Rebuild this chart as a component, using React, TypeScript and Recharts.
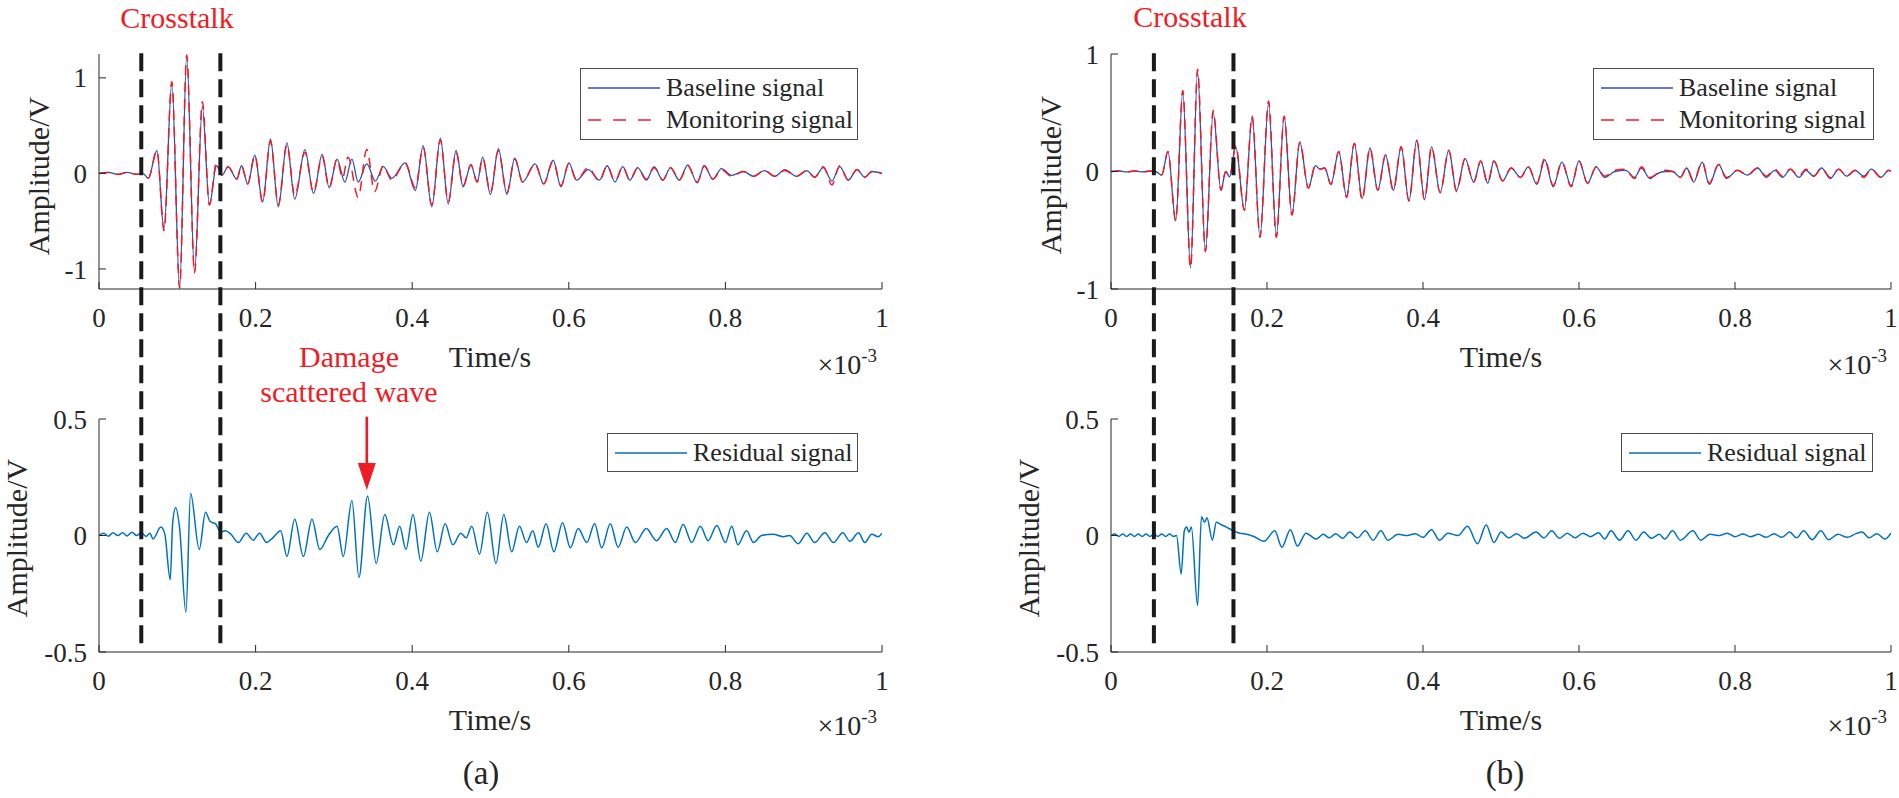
import React from "react";
import { LineChart, Line, XAxis, YAxis, ReferenceLine, Legend } from "recharts";

const FONT = '"Liberation Serif", "Times New Roman", serif';
const INK = "#262626";
const BLUE = "#2f4fb8";
const RED = "#ee1c25";
const RESID = "#0072bd";

// time axis is in units of 1e-3 s
const X_TICKS = [0, 0.2, 0.4, 0.6, 0.8, 1];
const SIG_A_TICKS = [-1, 0, 1];
const SIG_A_DOMAIN = [-1.21, 1.25];
const SIG_B_TICKS = [-1, 0, 1];
const SIG_B_DOMAIN = [-1, 1];
const RES_TICKS = [-0.5, 0, 0.5];
const RES_DOMAIN = [-0.5, 0.5];

// crosstalk window edges and damage echo position
const CROSS_A = [0.054, 0.155];
const CROSS_B = [0.055, 0.157];
const DASH_SPAN = [2.07, -0.48];
const DAMAGE_T = 0.342;
const ARROW_SPAN = [0.51, 0.195];

// [time, amplitude] (extrema of each oscillation)
const baselineA: [number, number][] = [
  [0, 0], [0.012, 0.01], [0.024, -0.01], [0.036, 0.01], [0.048, -0.01], [0.056, 0], [0.063, -0.05],
  [0.074, 0.24], [0.083, -0.59], [0.093, 0.95], [0.103, -1.2], [0.112, 1.23], [0.122, -1.04],
  [0.132, 0.7], [0.141, -0.33], [0.15, 0.08], [0.157, -0.02], [0.165, 0.07], [0.176, -0.06],
  [0.182, 0.08], [0.19, -0.11], [0.199, 0.19], [0.209, -0.3], [0.219, 0.36], [0.229, -0.35],
  [0.24, 0.32], [0.25, -0.27], [0.263, 0.25], [0.274, -0.21], [0.285, 0.2], [0.294, -0.15],
  [0.304, 0.15], [0.314, -0.09], [0.323, 0.15], [0.331, -0.09], [0.342, 0.1], [0.353, -0.08],
  [0.363, 0.07], [0.374, -0.05], [0.391, 0.11], [0.404, -0.18], [0.414, 0.29], [0.425, -0.35],
  [0.436, 0.37], [0.446, -0.32], [0.456, 0.24], [0.465, -0.14], [0.475, 0.09], [0.483, -0.09],
  [0.49, 0.17], [0.5, -0.22], [0.51, 0.26], [0.521, -0.22], [0.531, 0.16], [0.541, -0.09],
  [0.557, 0.1], [0.568, -0.11], [0.58, 0.14], [0.59, -0.14], [0.6, 0.11], [0.61, -0.07],
  [0.625, 0.04], [0.639, -0.07], [0.649, 0.08], [0.659, -0.09], [0.669, 0.07], [0.678, -0.07],
  [0.688, 0.06], [0.699, -0.07], [0.709, 0.07], [0.72, -0.07], [0.73, 0.06], [0.741, -0.07],
  [0.752, 0.09], [0.764, -0.1], [0.773, 0.08], [0.784, -0.06], [0.795, 0.05], [0.808, -0.02],
  [0.823, 0.02], [0.836, -0.03], [0.85, 0.03], [0.863, -0.03], [0.876, 0.04], [0.891, -0.03],
  [0.904, 0.03], [0.914, -0.04], [0.925, 0.06], [0.936, -0.08], [0.946, 0.07], [0.957, -0.07],
  [0.968, 0.04], [0.978, -0.04], [0.987, 0.02], [1, 0],
];

const monitorA: [number, number][] = [
  [0, 0], [0.012, 0.01], [0.024, -0.01], [0.036, 0.01], [0.048, -0.01], [0.056, 0], [0.063, -0.05],
  [0.074, 0.24], [0.083, -0.6], [0.093, 0.96], [0.103, -1.2], [0.112, 1.24], [0.122, -1.04],
  [0.132, 0.75], [0.141, -0.33], [0.15, 0.11], [0.157, -0.02], [0.165, 0.07], [0.176, -0.06],
  [0.182, 0.08], [0.19, -0.11], [0.199, 0.19], [0.209, -0.3], [0.219, 0.34], [0.229, -0.33],
  [0.24, 0.3], [0.25, -0.23], [0.263, 0.22], [0.274, -0.2], [0.285, 0.18], [0.294, -0.15],
  [0.304, 0.15], [0.311, -0.05], [0.318, 0.17], [0.331, -0.25], [0.342, 0.25], [0.352, -0.19],
  [0.363, 0.08], [0.374, -0.07], [0.391, 0.11], [0.404, -0.15], [0.414, 0.27], [0.425, -0.33],
  [0.436, 0.35], [0.446, -0.3], [0.456, 0.22], [0.465, -0.13], [0.475, 0.09], [0.483, -0.09],
  [0.49, 0.16], [0.5, -0.2], [0.51, 0.24], [0.521, -0.2], [0.531, 0.15], [0.541, -0.09],
  [0.557, 0.1], [0.568, -0.11], [0.58, 0.13], [0.59, -0.13], [0.6, 0.1], [0.61, -0.07],
  [0.625, 0.06], [0.639, -0.08], [0.649, 0.08], [0.659, -0.08], [0.669, 0.07], [0.678, -0.07],
  [0.688, 0.06], [0.699, -0.06], [0.709, 0.06], [0.72, -0.07], [0.73, 0.06], [0.741, -0.07],
  [0.752, 0.08], [0.764, -0.09], [0.773, 0.08], [0.784, -0.06], [0.795, 0.04], [0.808, -0.03],
  [0.823, 0.02], [0.836, -0.03], [0.85, 0.03], [0.863, -0.03], [0.876, 0.03], [0.891, -0.03],
  [0.904, 0.03], [0.914, -0.04], [0.925, 0.07], [0.936, -0.12], [0.946, 0.08], [0.957, -0.07],
  [0.968, 0.04], [0.978, -0.04], [0.987, 0.02], [1, 0],
];

const residualA: [number, number][] = [
  [0, 0], [0.006, 0.01], [0.012, -0.003], [0.018, 0.012], [0.024, 0], [0.03, 0.012], [0.036, -0.002],
  [0.042, 0.014], [0.048, 0], [0.054, 0.012], [0.06, -0.004], [0.065, 0.01], [0.069, -0.015],
  [0.079, 0.036], [0.084, 0.007], [0.091, -0.19], [0.094, 0.05], [0.098, 0.12], [0.103, 0.03],
  [0.111, -0.33], [0.117, 0.18], [0.128, -0.06], [0.136, 0.1], [0.142, 0.06], [0.149, 0.05],
  [0.155, 0.015], [0.161, 0.02], [0.168, 0.007], [0.178, -0.03], [0.188, 0.01], [0.197, -0.02],
  [0.205, 0.01], [0.214, -0.03], [0.222, -0.01], [0.232, 0.02], [0.24, -0.09], [0.25, 0.07],
  [0.261, -0.09], [0.272, 0.07], [0.282, -0.06], [0.293, 0], [0.304, 0.04], [0.312, -0.09],
  [0.323, 0.15], [0.332, -0.18], [0.343, 0.17], [0.354, -0.12], [0.365, 0.09], [0.376, -0.04],
  [0.384, 0.04], [0.392, -0.06], [0.401, 0.09], [0.411, -0.11], [0.422, 0.1], [0.432, -0.07],
  [0.442, 0.05], [0.452, -0.04], [0.462, 0.01], [0.469, -0.01], [0.476, 0.04], [0.486, -0.08],
  [0.496, 0.1], [0.507, -0.12], [0.517, 0.09], [0.527, -0.07], [0.537, 0.04], [0.546, -0.03],
  [0.554, 0.02], [0.561, -0.05], [0.571, 0.05], [0.581, -0.07], [0.592, 0.055], [0.602, -0.053],
  [0.612, 0.03], [0.623, -0.03], [0.633, 0.05], [0.642, -0.053], [0.653, 0.05], [0.663, -0.05],
  [0.674, 0.036], [0.685, -0.03], [0.699, 0.03], [0.712, -0.022], [0.725, 0.03], [0.736, -0.03],
  [0.746, 0.047], [0.757, -0.03], [0.768, 0.04], [0.778, -0.022], [0.789, 0.043], [0.8, -0.03],
  [0.808, 0.04], [0.816, -0.04], [0.827, 0.02], [0.836, -0.03], [0.846, 0], [0.861, 0.005],
  [0.874, -0.005], [0.882, 0], [0.893, -0.035], [0.904, 0.01], [0.914, -0.03], [0.927, 0.012],
  [0.938, -0.03], [0.95, 0.012], [0.959, -0.025], [0.97, 0.012], [0.978, -0.03], [0.987, 0.005],
  [0.995, -0.005], [1, 0.01],
];

const baselineB: [number, number][] = [
  [0, 0], [0.01, 0.005], [0.02, -0.004], [0.03, 0.005], [0.04, -0.004], [0.05, 0.004], [0.057, 0],
  [0.065, -0.03], [0.073, 0.17], [0.083, -0.42], [0.092, 0.68], [0.102, -0.82], [0.111, 0.85],
  [0.121, -0.68], [0.131, 0.5], [0.141, -0.16], [0.147, 0], [0.152, -0.045], [0.16, 0.21],
  [0.171, -0.33], [0.181, 0.47], [0.191, -0.56], [0.202, 0.58], [0.212, -0.55], [0.222, 0.47],
  [0.232, -0.37], [0.242, 0.25], [0.253, -0.14], [0.262, 0.05], [0.268, 0.02], [0.274, 0.03],
  [0.282, -0.11], [0.292, 0.17], [0.302, -0.21], [0.312, 0.24], [0.322, -0.23], [0.332, 0.2],
  [0.342, -0.16], [0.352, 0.14], [0.362, -0.16], [0.372, 0.21], [0.382, -0.25], [0.392, 0.27],
  [0.402, -0.24], [0.411, 0.21], [0.422, -0.18], [0.433, 0.18], [0.443, -0.16], [0.454, 0.11],
  [0.465, -0.09], [0.474, 0.09], [0.483, -0.1], [0.491, 0.09], [0.502, -0.08], [0.513, 0.03],
  [0.525, -0.05], [0.535, 0.04], [0.546, -0.11], [0.556, 0.1], [0.567, -0.13], [0.578, 0.08],
  [0.59, -0.12], [0.6, 0.09], [0.611, -0.1], [0.622, 0.04], [0.633, -0.05], [0.646, 0],
  [0.66, 0.01], [0.671, -0.05], [0.68, 0.03], [0.691, -0.06], [0.7, -0.02], [0.71, 0], [0.72, 0],
  [0.73, -0.05], [0.738, 0.03], [0.747, -0.09], [0.758, 0.08], [0.767, -0.11], [0.779, 0.06],
  [0.789, -0.06], [0.803, 0.01], [0.816, -0.03], [0.829, 0.03], [0.84, -0.05], [0.851, 0.01],
  [0.861, -0.05], [0.871, 0.02], [0.882, -0.05], [0.891, 0.01], [0.901, -0.04], [0.911, 0.03],
  [0.922, -0.06], [0.933, 0.02], [0.943, -0.04], [0.954, 0.01], [0.965, -0.04], [0.975, 0.02],
  [0.987, -0.05], [0.997, 0.01], [1, 0],
];

const monitorB: [number, number][] = [
  [0, 0], [0.01, 0.005], [0.02, -0.004], [0.03, 0.005], [0.04, -0.004], [0.05, 0.004], [0.057, 0],
  [0.065, -0.03], [0.073, 0.17], [0.083, -0.42], [0.092, 0.69], [0.102, -0.82], [0.111, 0.87],
  [0.121, -0.68], [0.131, 0.52], [0.141, -0.16], [0.147, 0], [0.152, -0.04], [0.16, 0.22],
  [0.171, -0.33], [0.181, 0.47], [0.191, -0.56], [0.202, 0.6], [0.212, -0.56], [0.222, 0.47],
  [0.232, -0.37], [0.242, 0.25], [0.253, -0.14], [0.262, 0.05], [0.268, 0.02], [0.274, 0.03],
  [0.282, -0.11], [0.292, 0.17], [0.302, -0.22], [0.312, 0.24], [0.322, -0.24], [0.332, 0.2],
  [0.342, -0.16], [0.352, 0.14], [0.362, -0.16], [0.372, 0.21], [0.382, -0.25], [0.392, 0.26],
  [0.402, -0.24], [0.411, 0.21], [0.422, -0.18], [0.433, 0.18], [0.443, -0.17], [0.454, 0.11],
  [0.465, -0.09], [0.474, 0.09], [0.483, -0.1], [0.491, 0.09], [0.502, -0.08], [0.513, 0.03],
  [0.525, -0.05], [0.535, 0.04], [0.546, -0.1], [0.556, 0.11], [0.567, -0.12], [0.578, 0.08],
  [0.59, -0.13], [0.6, 0.09], [0.611, -0.1], [0.622, 0.04], [0.633, -0.04], [0.646, 0.01],
  [0.66, 0.02], [0.671, -0.06], [0.68, 0.04], [0.691, -0.05], [0.7, -0.02], [0.71, 0.01], [0.72, 0],
  [0.73, -0.05], [0.738, 0.03], [0.747, -0.08], [0.758, 0.08], [0.767, -0.1], [0.779, 0.06],
  [0.789, -0.05], [0.803, 0.01], [0.816, -0.03], [0.829, 0.03], [0.84, -0.04], [0.851, 0.02],
  [0.861, -0.04], [0.871, 0.02], [0.882, -0.04], [0.891, 0.02], [0.901, -0.04], [0.911, 0.03],
  [0.922, -0.05], [0.933, 0.02], [0.943, -0.04], [0.954, 0.01], [0.965, -0.05], [0.975, 0.02],
  [0.987, -0.05], [0.997, 0.01], [1, 0],
];

const residualB: [number, number][] = [
  [0, 0], [0.005, 0.006], [0.01, -0.004], [0.015, 0.006], [0.02, -0.004], [0.025, 0.006],
  [0.03, -0.004], [0.035, 0.006], [0.04, -0.004], [0.045, 0.006], [0.05, -0.004], [0.055, 0.006],
  [0.06, -0.004], [0.065, 0.006], [0.07, -0.004], [0.075, 0.006], [0.08, -0.004], [0.084, 0],
  [0.09, -0.165], [0.094, 0.02], [0.097, 0.036], [0.1, 0.014], [0.103, 0.036], [0.111, -0.3],
  [0.116, 0.08], [0.12, 0.057], [0.123, 0.076], [0.13, -0.02], [0.135, 0.057], [0.141, 0.047],
  [0.148, 0.036], [0.157, 0.02], [0.165, 0.01], [0.174, 0.005], [0.183, -0.004], [0.196, -0.025],
  [0.21, 0.02], [0.219, -0.05], [0.23, 0.025], [0.239, -0.045], [0.25, 0.01], [0.263, -0.015],
  [0.272, 0.005], [0.28, -0.01], [0.288, 0.008], [0.297, -0.012], [0.306, 0.015], [0.316, -0.01],
  [0.326, 0.02], [0.336, -0.02], [0.346, 0.02], [0.355, -0.02], [0.368, 0.005], [0.38, 0],
  [0.39, 0.008], [0.4, -0.008], [0.411, 0.025], [0.421, -0.02], [0.432, 0.01], [0.445, 0],
  [0.457, 0.04], [0.47, -0.035], [0.481, 0.045], [0.491, -0.03], [0.5, 0.015], [0.51, -0.01],
  [0.52, 0.008], [0.53, -0.012], [0.545, 0.015], [0.555, -0.01], [0.565, 0.02], [0.575, -0.012],
  [0.585, 0.01], [0.595, -0.01], [0.605, 0.01], [0.615, -0.005], [0.625, 0.012], [0.633, -0.015],
  [0.641, 0.02], [0.652, -0.02], [0.663, 0.02], [0.673, -0.02], [0.683, 0.015], [0.693, -0.012],
  [0.703, 0.005], [0.71, -0.015], [0.72, 0.02], [0.73, -0.02], [0.746, 0.02], [0.756, -0.02],
  [0.768, 0.005], [0.78, 0], [0.79, 0.01], [0.8, -0.005], [0.81, 0.006], [0.82, -0.005],
  [0.83, 0.005], [0.84, -0.008], [0.85, 0.008], [0.86, -0.008], [0.87, 0.015], [0.879, -0.01],
  [0.888, 0.02], [0.899, -0.018], [0.91, 0.02], [0.92, -0.018], [0.932, 0.005], [0.944, -0.008],
  [0.955, 0.008], [0.963, 0.015], [0.972, -0.01], [0.982, 0.008], [0.992, -0.015], [1, 0.01],
];

type Series = { name: string; pts: [number, number][]; color: string; width: number; dash?: string; legendDash?: string };
type Box = { left: number; top: number; width: number; height: number };

const rows = (pts: [number, number][]) => pts.map(([t, v]) => ({ t, v }));
const tickStyle = { fontSize: 27, fill: INK, fontFamily: FONT };
const blank = () => "";

const legendContent = (series: Series[], box: Box) => (props: any) => {
  const items = props.payload || [];
  const pad = (box.height - items.length * 32) / 2;
  return (
    <div
      style={{
        width: box.width,
        height: box.height,
        boxSizing: "border-box",
        border: "1px solid #4d4d4d",
        background: "#fff",
        paddingTop: pad - 1,
        paddingLeft: 7,
        fontFamily: FONT,
        fontSize: 26,
        color: INK,
      }}
    >
      {items.map((e: any) => {
        const s = series.find((k) => k.name === e.value);
        return (
          <div key={e.value} style={{ display: "flex", alignItems: "center", height: 32 }}>
            <svg width={72} height={10} style={{ display: "block" }}>
              <line x1={0} y1={5} x2={72} y2={5} stroke={e.color} strokeWidth={1.5} strokeDasharray={s?.legendDash} />
            </svg>
            <span style={{ marginLeft: 6, whiteSpace: "nowrap", lineHeight: "32px" }}>{e.value}</span>
          </div>
        );
      })}
    </div>
  );
};

const arrowShape = (p: any) => {
  const { x1, y1, x2, y2 } = p;
  return (
    <g>
      <line x1={x1} y1={y1} x2={x2} y2={y2 - 24} stroke={RED} strokeWidth={2.6} />
      <polygon points={`${x2 - 9},${y2 - 27} ${x2 + 9},${y2 - 27} ${x2},${y2}`} fill={RED} />
    </g>
  );
};

type PanelProps = {
  x: number;
  w: number;
  h: number;
  plot: { left: number; right: number; top: number; bottom: number };
  yDomain: number[];
  yTicks: number[];
  series: Series[];
  legend: Box;
  cross?: number[];
  arrowAt?: number;
};

const Panel = ({ x, w, h, plot, yDomain, yTicks, series, legend, cross, arrowAt }: PanelProps) => {
  const yw = 60;
  const xh = 40;
  const margin = { top: plot.top, bottom: h - plot.bottom - xh, left: plot.left - yw, right: w - plot.right };
  return (
    <div style={{ position: "absolute", left: x, top: 0 }}>
      <LineChart width={w} height={h} margin={margin}>
        <XAxis xAxisId="b" type="number" dataKey="t" domain={[0, 1]} ticks={X_TICKS} interval={0} height={xh}
          tickSize={-7} tickMargin={26} stroke={INK} tick={tickStyle} tickFormatter={(v) => String(v)} allowDataOverflow />
        <XAxis xAxisId="t" orientation="top" type="number" dataKey="t" domain={[0, 1]} ticks={X_TICKS} interval={0}
          height={0} tickSize={-7} stroke={INK} tickFormatter={blank} allowDataOverflow />
        <YAxis yAxisId="l" type="number" domain={yDomain} ticks={yTicks} interval={0} width={yw}
          tickSize={-7} tickMargin={19} stroke={INK} tick={tickStyle} tickFormatter={(v) => String(v)} allowDataOverflow />
        <YAxis yAxisId="r" orientation="right" type="number" domain={yDomain} ticks={yTicks} interval={0} width={0}
          tickSize={-7} stroke={INK} tickFormatter={blank} allowDataOverflow />
        {series.map((s) => (
          <Line key={s.name} xAxisId="b" yAxisId="l" data={rows(s.pts)} dataKey="v" name={s.name} type="monotone"
            stroke={s.color} strokeWidth={s.width} strokeDasharray={s.dash} dot={false} activeDot={false}
            isAnimationActive={false} />
        ))}
        {cross &&
          cross.map((c) => (
            <ReferenceLine key={c} xAxisId="b" yAxisId="l" ifOverflow="visible" stroke="#1a1a1a" strokeWidth={4}
              strokeDasharray="18 8" segment={[{ x: c, y: DASH_SPAN[0] }, { x: c, y: DASH_SPAN[1] }]} />
          ))}
        {arrowAt !== undefined && (
          <ReferenceLine xAxisId="b" yAxisId="l" ifOverflow="visible" shape={arrowShape}
            segment={[{ x: arrowAt, y: ARROW_SPAN[0] }, { x: arrowAt, y: ARROW_SPAN[1] }]} />
        )}
        <Legend layout="vertical" align="center" verticalAlign="middle"
          wrapperStyle={{ left: legend.left - x, top: legend.top, width: legend.width, height: legend.height }}
          content={legendContent(series, legend)} />
      </LineChart>
    </div>
  );
};

const Txt = ({ x, y, size = 30, color = INK, rotate = false, children }: any) => (
  <div
    style={{
      position: "absolute",
      left: x,
      top: y,
      transform: `translate(-50%, -50%)${rotate ? " rotate(-90deg)" : ""}`,
      fontFamily: FONT,
      fontSize: size,
      color,
      whiteSpace: "nowrap",
      lineHeight: 1,
    }}
  >
    {children}
  </div>
);

const Exponent = ({ right, y }: { right: number; y: number }) => (
  <div
    style={{
      position: "absolute",
      left: right,
      top: y,
      transform: "translate(-100%, -50%)",
      fontFamily: FONT,
      fontSize: 28,
      color: INK,
      whiteSpace: "nowrap",
      lineHeight: 1,
    }}
  >
    ×10<span style={{ fontSize: 19, position: "relative", top: -12 }}>-3</span>
  </div>
);

const sigA: Series[] = [
  { name: "Baseline signal", pts: baselineA, color: BLUE, width: 1.3 },
  { name: "Monitoring signal", pts: monitorA, color: RED, width: 1.5, dash: "10 7", legendDash: "13 12" },
];
const sigB: Series[] = [
  { name: "Baseline signal", pts: baselineB, color: BLUE, width: 1.3 },
  { name: "Monitoring signal", pts: monitorB, color: RED, width: 1.5, dash: "10 7", legendDash: "13 12" },
];
const resA: Series[] = [{ name: "Residual signal", pts: residualA, color: RESID, width: 1.5 }];
const resB: Series[] = [{ name: "Residual signal", pts: residualB, color: RESID, width: 1.5 }];

export default function App() {
  return (
    <div style={{ position: "absolute", left: 0, top: 0, width: 1899, height: 798, background: "#fff", overflow: "hidden" }}>
      <Panel x={0} w={900} h={400} plot={{ left: 99, right: 882, top: 54, bottom: 289 }} yDomain={SIG_A_DOMAIN}
        yTicks={SIG_A_TICKS} series={sigA} legend={{ left: 580, top: 68, width: 278, height: 72 }} />
      <Panel x={0} w={900} h={798} plot={{ left: 99, right: 882, top: 419, bottom: 652 }} yDomain={RES_DOMAIN}
        yTicks={RES_TICKS} series={resA} legend={{ left: 607, top: 433, width: 251, height: 39 }} cross={CROSS_A}
        arrowAt={DAMAGE_T} />
      <Panel x={1000} w={899} h={400} plot={{ left: 111, right: 891, top: 54, bottom: 289 }} yDomain={SIG_B_DOMAIN}
        yTicks={SIG_B_TICKS} series={sigB} legend={{ left: 1593, top: 68, width: 281, height: 72 }} />
      <Panel x={1000} w={899} h={798} plot={{ left: 111, right: 891, top: 419, bottom: 652 }} yDomain={RES_DOMAIN}
        yTicks={RES_TICKS} series={resB} legend={{ left: 1621, top: 433, width: 252, height: 39 }} cross={CROSS_B} />

      <Txt x={177} y={18} color={RED}>Crosstalk</Txt>
      <Txt x={1190} y={17} color={RED}>Crosstalk</Txt>
      <Txt x={349} y={357} color={RED}>Damage</Txt>
      <Txt x={349} y={392} color={RED}>scattered wave</Txt>

      <Txt x={39} y={176} rotate>Amplitude/V</Txt>
      <Txt x={17} y={538} rotate>Amplitude/V</Txt>
      <Txt x={1051} y={175} rotate>Amplitude/V</Txt>
      <Txt x={1029} y={538} rotate>Amplitude/V</Txt>

      <Txt x={490} y={357}>Time/s</Txt>
      <Txt x={490} y={720}>Time/s</Txt>
      <Txt x={1501} y={357}>Time/s</Txt>
      <Txt x={1501} y={720}>Time/s</Txt>

      <Exponent right={877} y={365} />
      <Exponent right={877} y={726} />
      <Exponent right={1887} y={365} />
      <Exponent right={1887} y={726} />

      <Txt x={481} y={773} size={33}>(a)</Txt>
      <Txt x={1505} y={773} size={33}>(b)</Txt>
    </div>
  );
}
